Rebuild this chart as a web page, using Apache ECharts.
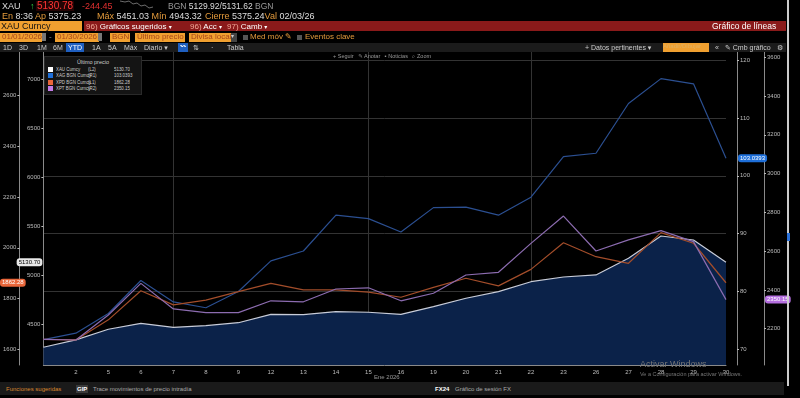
<!DOCTYPE html>
<html>
<head>
<meta charset="utf-8">
<script src="https://cdn.jsdelivr.net/npm/echarts@6/dist/echarts.min.js"></script>
<style>
  body { margin: 0; background: #000; width: 800px; height: 398px; overflow: hidden; font-family: 'Liberation Sans', 'DejaVu Sans', sans-serif; }
  #chart { position: absolute; left: 0; top: 0; width: 800px; height: 398px; }
  .o { position: absolute; white-space: nowrap; line-height: 1; }
  .or { color: #e39a3b; }
  .wh { color: #ddd; }
  .gy { color: #999; }
  .box { background: #f0a030; color: #a8471a; padding: 0 2px; }
  .bar5 span { position: absolute; top: 1px; color: #ccc; font-size: 7px; }
  #legend { position: absolute; left: 44px; top: 56px; width: 96px; height: 37px; background: #141414; border: 1px solid #2a2a2a; font-size: 5.5px; color: #ccc; }
  #legend .row { position: absolute; left: 3px; height: 6px; }
  #legend .row span { transform: scaleX(0.8); transform-origin: 0 0; }
  #legend i { position: absolute; left: 0; top: 0; width: 5px; height: 5px; }
</style>
</head>
<body>
<div id="chart"></div>

<!-- header rows -->
<div class="o wh" style="left:2px;top:2px;font-size:9px">XAU</div>
<div class="o" style="left:30px;top:2px;font-size:9px;color:#2ecc40">↑</div>
<div class="o" style="left:36px;top:1px;font-size:10px;color:#ff3434;background:#240404;padding:0 1px">5130.78</div>
<div class="o" style="left:82px;top:2px;font-size:9px;color:#e03030">-244.45</div>
<svg class="o" style="left:120px;top:0" width="34" height="10"><polyline points="0,1 5,2 9,1 13,4 17,3 21,6 25,5 29,8 33,7" fill="none" stroke="#888" stroke-width="0.8"/></svg>
<div class="o" style="left:168px;top:2px;font-size:8.5px"><span class="gy">BGN</span> <span class="wh">5129.92/5131.62</span> <span class="gy">BGN</span></div>

<div class="o" style="left:2px;top:12px;font-size:9px"><span class="or">En</span> <span class="wh">8:36</span> <span class="or">Ap</span> <span class="wh">5375.23</span></div>
<div class="o" style="left:97px;top:12px;font-size:9px"><span class="or">Máx</span> <span class="wh">5451.03</span> <span class="or">Mín</span> <span class="wh">4943.32</span></div>
<div class="o" style="left:205px;top:12px;font-size:9px"><span class="or">Cierre</span> <span class="wh">5375.24</span><span class="or">Val</span> <span class="wh">02/03/26</span></div>

<div class="o" style="left:0;top:21px;width:82px;height:10px;background:#f0a030"></div>
<div class="o" style="left:1px;top:22px;font-size:9px;color:#111">XAU Curncy</div>
<div class="o" style="left:84px;top:21px;width:702px;height:10px;background:#8a1a1a"></div>
<div class="o" style="left:86px;top:22.5px;font-size:8px;color:#fff"><span style="color:#f2a898">96)</span> Gráficos sugeridos <span style="font-size:6px">▾</span></div>
<div class="o" style="left:190px;top:22.5px;font-size:8px;color:#fff"><span style="color:#f2a898">96)</span> Acc <span style="font-size:6px">▾</span></div>
<div class="o" style="left:227px;top:22.5px;font-size:8px;color:#fff"><span style="color:#f2a898">97)</span> Camb <span style="font-size:6px">▾</span></div>
<div class="o" style="left:712px;top:22px;font-size:8.5px;color:#fff">Gráfico de líneas</div>

<div class="o box" style="left:0;top:33px;font-size:8px;height:9px;width:38px">01/01/2026</div>
<div class="o" style="left:42px;top:33px;width:4px;height:8px;background:#777"></div>
<div class="o gy" style="left:49px;top:33px;font-size:8px">-</div>
<div class="o box" style="left:55px;top:33px;font-size:8px;height:9px;width:40px">01/30/2026</div>
<div class="o" style="left:98px;top:33px;width:4px;height:8px;background:#777"></div>
<div class="o box" style="left:110px;top:33px;font-size:8px;height:9px;width:16px">BGN</div>
<div class="o box" style="left:135px;top:33px;font-size:8px;height:9px;width:46px">Último precio</div>
<div class="o box" style="left:189px;top:33px;font-size:8px;height:9px;width:38px">Divisa local</div>
<div class="o" style="left:231px;top:33px;font-size:6px;color:#ccc;background:#444;height:9px;width:6px">▾</div>
<div class="o" style="left:243px;top:35px;width:5px;height:5px;background:#555"></div>
<div class="o or" style="left:250px;top:33px;font-size:8px">Med móv ✎</div>
<div class="o" style="left:297px;top:35px;width:5px;height:5px;background:#555"></div>
<div class="o or" style="left:305px;top:33px;font-size:8px">Eventos clave</div>

<div class="o bar5" style="left:0;top:43px;width:786px;height:9px;background:#1b1b1b">
  <span style="left:3px">1D</span><span style="left:19px">3D</span><span style="left:37px">1M</span><span style="left:53px">6M</span>
  <span style="left:66px;top:0;height:9px;padding:1px 2px 0;background:#1f5fc0;color:#fff;box-sizing:border-box">YTD</span>
  <span style="left:92px">1A</span><span style="left:108px">5A</span><span style="left:124px">Máx</span><span style="left:144px">Diario ▾</span>
  <span style="left:178px;top:0;width:10px;height:9px;background:#1f5fc0;color:#fff;font-size:6px;text-align:center">〰</span>
  <span style="left:193px">⇅</span><span style="left:211px">·</span><span style="left:227px">Tabla</span>
  <span style="left:585px">+ Datos pertinentes ▾</span>
  <span style="left:663px;top:0;width:46px;height:9px;background:#f0a030;color:#e0b060;font-size:6px">Añadir/Dibujar</span>
  <span style="left:715px">«</span><span style="left:725px">✎ Cmb gráfico</span><span style="left:777px">⚙</span>
</div>

<div class="o gy" style="left:333px;top:54px;font-size:5.5px">+ Seguir &nbsp; ✎ Anotar &nbsp; ▪ Noticias &nbsp; ⌕ Zoom</div>

<div id="legend"></div>

<div class="o gy" style="left:374px;top:374px;font-size:6px">Ene 2026</div>
<div class="o" style="left:640px;top:360px;font-size:9px;color:#777">Activar Windows</div>
<div class="o" style="left:640px;top:372px;font-size:5.5px;color:#777">Ve a Configuración para activar Windows.</div>

<div class="o" style="left:0;top:382px;width:784px;height:13px;background:#1a1a1a"></div>
<div class="o" style="left:6px;top:386px;font-size:6px;color:#d8862e">Funciones sugeridas</div>
<div class="o" style="left:76px;top:385px;font-size:6px;color:#fff;background:#3a3a3a;padding:1px 1px;font-weight:bold">GIP</div>
<div class="o" style="left:93px;top:386px;font-size:6px;color:#aaa">Trace movimientos de precio intradía</div>
<div class="o" style="left:435px;top:386px;font-size:6px;color:#fff;font-weight:bold">FX24</div>
<div class="o" style="left:455px;top:386px;font-size:6px;color:#aaa">Gráfico de sesión FX</div>
<div class="o" style="left:787px;top:0;width:2px;height:386px;background:#ccc"></div>
<div class="o" style="left:787px;top:233px;width:3px;height:8px;background:#2a70d8"></div>

<script>
// trading days of Jan 2026 (first point is the start date, unlabeled)
const days = ['1', '2', '5', '6', '7', '8', '9', '12', '13', '14', '15', '16', '19', '20', '21', '22', '23', '26', '27', '28', '29', '30']

const xau = [4262, 4337, 4446, 4507, 4466, 4483, 4513, 4599, 4595, 4626, 4620, 4599, 4677, 4763, 4830, 4932, 4980, 5001, 5171, 5399, 5358, 5130.70]
const xag = [71.7, 72.8, 76.2, 81.9, 78.2, 77.2, 80.0, 85.3, 87.0, 93.2, 92.6, 90.3, 94.5, 94.6, 93.2, 96.3, 103.3, 103.9, 112.5, 116.8, 115.9, 103.0393]
const xpd = [1639, 1637, 1716, 1831, 1775, 1794, 1827, 1860, 1834, 1834, 1825, 1805, 1844, 1880, 1850, 1915, 2020, 1965, 1939, 2060, 2018, 1862.28]
const xpt = [2145, 2142, 2271, 2434, 2302, 2283, 2283, 2344, 2339, 2405, 2411, 2344, 2383, 2477, 2491, 2640, 2781, 2601, 2658, 2706, 2649, 2350.15]

const seriesNames = ['XAU Curncy', 'XAG BGN Curncy', 'XPD BGN Curncy', 'XPT BGN Curncy']
const axisTags = ['(L2)', '(R1)', '(L1)', '(R2)']
const decimals = [2, 4, 2, 2]

// axis tick labels
const ticksL1 = [4500, 5000, 5500, 6000, 6500, 7000]
const ticksL2 = [1600, 1800, 2000, 2200, 2400, 2600]
const ticksR1 = [70, 80, 90, 100, 110, 120]
const ticksR2 = [2200, 2400, 2600, 2800, 3000, 3200, 3400, 3600]

// vertical grid lines (indices into days)
const vLines = [4, 10, 15]

const swatch = ['#ffffff', '#1e6fd9', '#e8663a', '#c27be8']
const lineColor = ['#c8ccd8', '#2b4f91', '#a34d2a', '#8c6cb0']
const lastData = [xau, xag, xpd, xpt]

const legend = document.getElementById('legend')
let html = '<div class="o" style="left:0;width:96px;top:3px;text-align:center">Último precio</div>'
seriesNames.forEach((name, i) => {
  const arr = lastData[i]
  html += '<div class="row" style="top:' + (10 + i * 6.3) + 'px;width:92px">' +
    '<i style="background:' + swatch[i] + '"></i>' +
    '<span class="o" style="left:8px">' + name + '</span>' +
    '<span class="o" style="left:40px">' + axisTags[i] + '</span>' +
    '<span class="o" style="left:66px">' + arr[arr.length - 1].toFixed(decimals[i]) + '</span></div>'
})
legend.innerHTML = html

const chart = echarts.init(document.getElementById('chart'))

const yAxisBase = (opts) => ({
  type: 'value',
  scale: true,
  axisLine: { show: true, lineStyle: { color: '#8a8a8a', width: 1 } },
  axisTick: { show: true, length: 2, lineStyle: { color: '#bbb' }, customValues: opts.ticks },
  axisLabel: { color: '#bbb', fontSize: 6, margin: 3, customValues: opts.ticks, formatter: (v) => String(v) },
  splitLine: { show: false },
  ...opts.extra
})

const pointer = (value, dec, bg, fg) => ({
  show: true,
  status: 'show',
  value: value,
  triggerTooltip: false,
  lineStyle: { opacity: 0 },
  label: {
    show: true,
    backgroundColor: bg,
    color: fg,
    fontSize: 6,
    padding: [1, 2],
    margin: 1,
    formatter: (p) => Number(p.value).toFixed(dec)
  }
})

const option = {
  backgroundColor: 'transparent',
  animation: false,
  axisPointer: { triggerOn: 'none' },
  grid: { left: 43, right: 74, top: 52, bottom: 33 },
  xAxis: {
    type: 'category',
    data: days,
    boundaryGap: false,
    axisLine: { lineStyle: { color: '#8a8a8a' } },
    axisTick: { show: false },
    axisLabel: {
      color: '#bbb',
      fontSize: 6,
      margin: 4,
      interval: 0,
      formatter: (v, i) => (i === 0 ? '' : v)
    },
    splitLine: {
      show: true,
      interval: (i) => vLines.includes(i),
      lineStyle: { color: '#333', width: 1 }
    }
  },
  yAxis: [
    yAxisBase({ ticks: ticksL1, extra: { position: 'left', offset: 0, min: 4081, max: 7279, axisPointer: pointer(xau[xau.length - 1], 2, '#e8e8e8', '#000') } }),
    yAxisBase({ ticks: ticksL2, extra: { position: 'left', offset: 24, min: 1538, max: 2772, axisPointer: pointer(xpd[xpd.length - 1], 2, '#e8663a', '#fff') } }),
    yAxisBase({ ticks: ticksR1, extra: { position: 'right', offset: 11, min: 67.3, max: 121.4, splitLine: { show: true, lineStyle: { color: '#333', width: 1 } }, axisPointer: pointer(xag[xag.length - 1], 4, '#1e6fd9', '#fff') } }),
    yAxisBase({ ticks: ticksR2, extra: { position: 'right', offset: 38, min: 2013, max: 3627, axisPointer: pointer(xpt[xpt.length - 1], 2, '#b56fe0', '#fff') } })
  ],
  series: [
    {
      name: seriesNames[0],
      type: 'line',
      yAxisIndex: 0,
      data: xau,
      symbol: 'none',
      lineStyle: { color: lineColor[0], width: 1.2 },
      areaStyle: { color: '#0b2249', opacity: 1, origin: 'start' },
      z: 1
    },
    {
      name: seriesNames[1],
      type: 'line',
      yAxisIndex: 2,
      data: xag,
      symbol: 'none',
      lineStyle: { color: lineColor[1], width: 1.2 },
      z: 3
    },
    {
      name: seriesNames[2],
      type: 'line',
      yAxisIndex: 1,
      data: xpd,
      symbol: 'none',
      lineStyle: { color: lineColor[2], width: 1.2 },
      z: 3
    },
    {
      name: seriesNames[3],
      type: 'line',
      yAxisIndex: 3,
      data: xpt,
      symbol: 'none',
      lineStyle: { color: lineColor[3], width: 1.2 },
      z: 3
    }
  ]
}

chart.setOption(option)
</script>
</body>
</html>
